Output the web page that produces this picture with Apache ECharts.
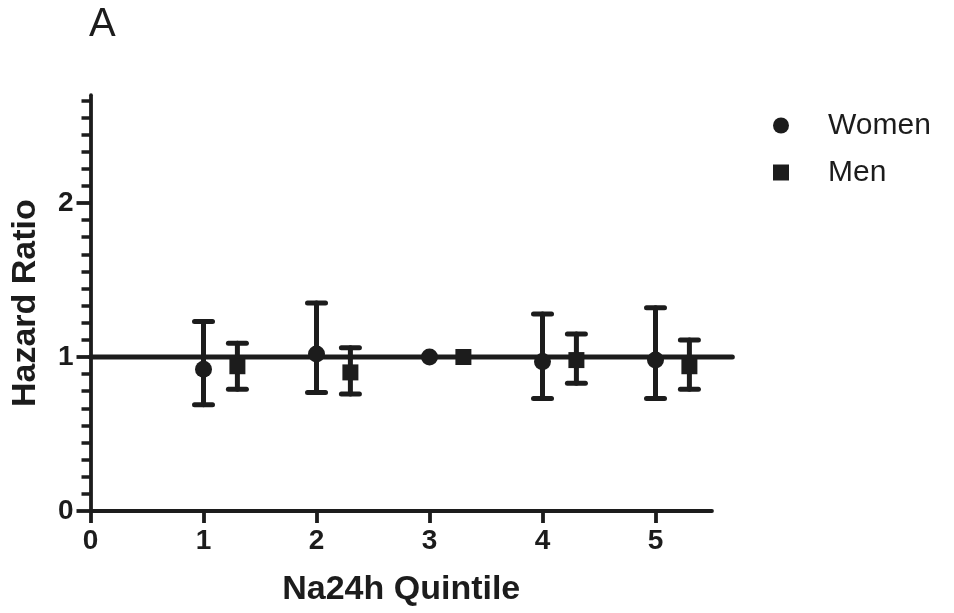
<!DOCTYPE html>
<html>
<head>
<meta charset="utf-8">
<script src="https://cdn.jsdelivr.net/npm/echarts@6/dist/echarts.min.js"></script>
<style>
  html, body { margin: 0; padding: 0; background: #fff; }
  #chart { width: 954px; height: 613px; }
</style>
</head>
<body>
<div id="chart"></div>
<script>
// Hazard ratios by 24-h urinary sodium quintile (Q3 = reference)
const quintiles = [1, 2, 3, 4, 5];
const womenHR   = [0.92, 1.02, 1.00, 0.97, 0.98];
const womenLow  = [0.69, 0.77, null, 0.73, 0.73];
const womenHigh = [1.23, 1.35, null, 1.28, 1.32];
const menHR     = [0.94, 0.90, 1.00, 0.98, 0.94];
const menLow    = [0.79, 0.76, null, 0.83, 0.79];
const menHigh   = [1.09, 1.06, null, 1.15, 1.11];
const menShift  = 0.3;           // men plotted just right of each quintile
const xTicks    = [0, 1, 2, 3, 4, 5];
const yTicks    = [0, 1, 2];
const refHR     = 1;
const refSpan   = [0, 5.68];     // x range of the HR = 1 line

const ink = '#1c1c1c';
const font = 'Liberation Sans, Arial, Helvetica, sans-serif';

const womenPts = quintiles.map((q, i) => [q, womenHR[i]]);
const menPts = quintiles.map((q, i) => [q + menShift, menHR[i]]);
const bars = [];
quintiles.forEach((q, i) => {
  if (womenLow[i] != null) bars.push([q, womenLow[i], womenHigh[i]]);
  if (menLow[i] != null) bars.push([q + menShift, menLow[i], menHigh[i]]);
});

function errorBar(params, api) {
  const x = api.value(0);
  const top = api.coord([x, api.value(2)]);
  const bot = api.coord([x, api.value(1)]);
  const half = 9;
  const style = { stroke: ink, lineWidth: 5, lineCap: 'round' };
  return {
    type: 'group',
    children: [
      { type: 'line', shape: { x1: top[0], y1: top[1], x2: bot[0], y2: bot[1] }, style },
      { type: 'line', shape: { x1: top[0] - half, y1: top[1], x2: top[0] + half, y2: top[1] }, style },
      { type: 'line', shape: { x1: bot[0] - half, y1: bot[1], x2: bot[0] + half, y2: bot[1] }, style }
    ]
  };
}

function refLine(params, api) {
  const a = api.coord([api.value(0), api.value(2)]);
  const b = api.coord([api.value(1), api.value(2)]);
  return {
    type: 'line',
    shape: { x1: a[0], y1: a[1], x2: b[0], y2: b[1] },
    style: { stroke: ink, lineWidth: 5, lineCap: 'round' }
  };
}

const axisLine = { show: true, lineStyle: { color: ink, width: 3.8, cap: 'round' } };

const chart = echarts.init(document.getElementById('chart'), null, { renderer: 'canvas' });
chart.setOption({
  backgroundColor: '#fff',
  animation: false,
  title: {
    text: 'A', left: 84, top: 0,
    textStyle: { fontFamily: font, fontSize: 40, fontWeight: 'normal', color: ink }
  },
  legend: {
    orient: 'vertical', left: 768, top: 104,
    itemWidth: 16, itemHeight: 16, itemGap: 14,
    data: ['Women', 'Men'],
    textStyle: { fontFamily: font, fontSize: 30, color: ink, lineHeight: 33, padding: [0, 0, 0, 34] }
  },
  grid: [
    // plotting area with axis lines and minor ticks
    { left: 90.5, right: 242, top: 95.2, bottom: 102, outerBoundsMode: 'none', containLabel: false },
    // major ticks and labels
    { left: 90.5, right: 298.5, top: 203, bottom: 102, outerBoundsMode: 'none', containLabel: false }
  ],
  xAxis: [
    {
      gridIndex: 0, type: 'value', min: 0, max: 5.5, interval: 1,
      axisLine, axisTick: { show: false }, axisLabel: { show: false }, splitLine: { show: false },
      name: 'Na24h Quintile', nameLocation: 'middle', nameGap: 62, nameMoveOverlap: false,
      nameTextStyle: { fontFamily: font, fontSize: 34, fontWeight: 'bold', color: ink }
    },
    {
      gridIndex: 1, type: 'value', min: 0, max: 5, interval: 1,
      axisLine: { show: false },
      axisTick: { show: true, length: 12, lineStyle: { color: ink, width: 3.8 } },
      axisLabel: {
        show: true, margin: 16, color: ink, fontFamily: font, fontSize: 28, fontWeight: 'bold',
        formatter: v => (xTicks.includes(v) ? String(v) : '')
      },
      splitLine: { show: false }
    }
  ],
  yAxis: [
    {
      gridIndex: 0, type: 'value', min: 0, max: 2.7, interval: 1,
      axisLine, axisTick: { show: false }, axisLabel: { show: false }, splitLine: { show: false },
      minorTick: { show: true, splitNumber: 9, length: 9, lineStyle: { color: ink, width: 3.5 } },
      minorSplitLine: { show: false },
      name: 'Hazard Ratio', nameLocation: 'middle', nameGap: 48, nameMoveOverlap: false,
      nameTextStyle: { fontFamily: font, fontSize: 34, fontWeight: 'bold', color: ink }
    },
    {
      gridIndex: 1, type: 'value', min: 0, max: 2, interval: 1,
      axisLine: { show: false },
      axisTick: { show: true, length: 14, lineStyle: { color: ink, width: 3.8 } },
      axisLabel: {
        show: true, margin: 17, color: ink, fontFamily: font, fontSize: 28, fontWeight: 'bold',
        formatter: v => (yTicks.includes(v) ? String(v) : '')
      },
      splitLine: { show: false }
    }
  ],
  series: [
    {
      name: 'reference', type: 'custom', xAxisIndex: 0, yAxisIndex: 0,
      data: [[refSpan[0], refSpan[1], refHR]], renderItem: refLine,
      clip: false, z: 1, silent: true
    },
    {
      name: 'ci', type: 'custom', xAxisIndex: 0, yAxisIndex: 0,
      data: bars, renderItem: errorBar, z: 2, clip: false, silent: true
    },
    {
      name: 'Women', type: 'scatter', xAxisIndex: 0, yAxisIndex: 0,
      data: womenPts, symbol: 'circle', symbolSize: 17, z: 3,
      itemStyle: { color: ink, opacity: 1 }
    },
    {
      name: 'Men', type: 'scatter', xAxisIndex: 0, yAxisIndex: 0,
      data: menPts, symbol: 'rect', symbolSize: 16, z: 3,
      itemStyle: { color: ink, opacity: 1 }
    }
  ]
});
</script>
</body>
</html>
